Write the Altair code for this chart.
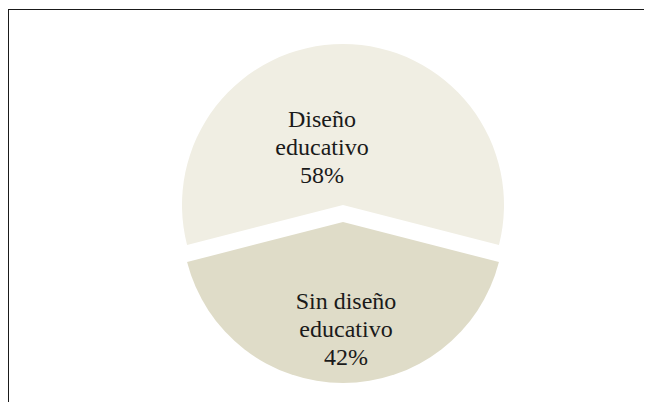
import math
import altair as alt
import pandas as pd

categories = ["Diseño educativo", "Sin diseño educativo"]
label_lines = [["Diseño", "educativo", "58%"], ["Sin diseño", "educativo", "42%"]]
values = [58, 42]
colors = ["#F0EEE3", "#DFDCC8"]

df = pd.DataFrame({
    "cat": categories,
    "value": values,
    "label": ["\n".join(l) for l in label_lines],
})

W, H = 636, 394
CX_OFF, CY_OFF = 17, 8.5   # shift pie centre from view centre
EXPLODE = 8.5
R = 161

start = -math.pi * values[0] / 100.0
theta = alt.Theta("value:Q", stack=True,
                  scale=alt.Scale(range=[start, start + 2 * math.pi]))
order = alt.Order("cat:N", sort="ascending")
color = alt.Color("cat:N", scale=alt.Scale(domain=categories, range=colors), legend=None)

base = alt.Chart(df)

def show(cat):
    return alt.condition(alt.datum.cat == cat, alt.value(1), alt.value(0))

arc_top = base.mark_arc(outerRadius=R, xOffset=CX_OFF, yOffset=CY_OFF - EXPLODE).encode(
    theta=theta, color=color, order=order, opacity=show(categories[0]))
arc_bot = base.mark_arc(outerRadius=R, xOffset=CX_OFF, yOffset=CY_OFF + EXPLODE).encode(
    theta=theta, color=color, order=order, opacity=show(categories[1]))

txt_kw = dict(font="Liberation Serif", fontSize=24, lineHeight=28, lineBreak="\n",
              color="#1a1a1a", align="center", baseline="middle")
text_top = base.mark_text(radius=93.5, dx=-21, xOffset=CX_OFF, yOffset=CY_OFF, **txt_kw).encode(
    theta=theta, detail="cat:N", order=order, text="label:N", opacity=show(categories[0]))
text_bot = base.mark_text(radius=88.5, dx=3, xOffset=CX_OFF, yOffset=CY_OFF, **txt_kw).encode(
    theta=theta, detail="cat:N", order=order, text="label:N", opacity=show(categories[1]))

frame_src = alt.Chart(pd.DataFrame({"k": [0]}))
frame_left = frame_src.mark_rule(color="#1a1a1a", strokeWidth=1).encode(
    x=alt.value(0.5), y=alt.value(1), y2=alt.value(H))
frame_top = frame_src.mark_rule(color="#1a1a1a", strokeWidth=1).encode(
    x=alt.value(0), x2=alt.value(W), y=alt.value(1.5))

chart = alt.layer(arc_top, arc_bot, text_top, text_bot, frame_left, frame_top).properties(
    width=W, height=H, padding=0,
    autosize=alt.AutoSizeParams(type="none"),
    background="white",
).configure_view(stroke=None)

chart.save("out.html", embed_options={"renderer": "svg", "actions": False})
